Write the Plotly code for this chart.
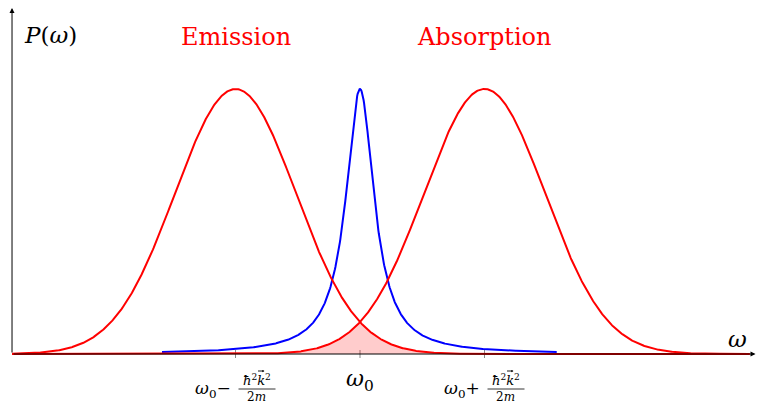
import numpy as np
import plotly.graph_objects as go

# curve parameters (in units of the recoil shift)
centers = [-1.0, 1.0]          # emission, absorption centers
peak_height = 1.0
gauss_sigma = 0.486
lorentz_gamma = 0.138
lorentz_range = [-1.59, 1.58]
x_range = [-2.795, 3.13]
labels = ["Emission", "Absorption"]

x = np.linspace(x_range[0], x_range[1], 1200)
g_em = peak_height * np.exp(-(x - centers[0]) ** 2 / (2 * gauss_sigma ** 2))
g_ab = peak_height * np.exp(-(x - centers[1]) ** 2 / (2 * gauss_sigma ** 2))
overlap = np.minimum(g_em, g_ab)
xl = np.linspace(lorentz_range[0], lorentz_range[1], 800)
lor = peak_height * lorentz_gamma ** 2 / (xl ** 2 + lorentz_gamma ** 2)

fig = go.Figure()
fig.add_trace(go.Scatter(x=x, y=overlap, fill="tozeroy", mode="none",
                         fillcolor="rgba(255,0,0,0.2)", hoverinfo="skip"))
fig.add_trace(go.Scatter(x=xl, y=lor, mode="lines", line=dict(color="#0000ff", width=2)))
fig.add_trace(go.Scatter(x=x, y=g_em, mode="lines", line=dict(color="#ff0000", width=2)))
fig.add_trace(go.Scatter(x=x, y=g_ab, mode="lines", line=dict(color="#ff0000", width=2)))

px = 124.5
xmin = -360 / px
xmax = 397 / px
ymin = -51 / 265
ymax = 354 / 265

serif = "DejaVu Serif"
ann = []
# axes with arrows
ann.append(dict(x=xmax - 1.5 / px, y=0, ax=x_range[0], ay=0, xref="x", yref="y", axref="x", ayref="y",
                showarrow=True, arrowhead=2, arrowsize=1, arrowwidth=1, arrowcolor="black", text=""))
ann.append(dict(x=x_range[0], y=ymax - 8 / 265, ax=x_range[0], ay=0, xref="x", yref="y", axref="x", ayref="y",
                showarrow=True, arrowhead=2, arrowsize=1, arrowwidth=1, arrowcolor="black", text=""))
ann.append(dict(x=x_range[0] + 10 / px, y=(354 - 35) / 265, text="<i>P</i>(<i>ω</i>)", showarrow=False,
                xanchor="left", yanchor="middle", font=dict(family=serif, size=23, color="black")))
ann.append(dict(x=(737 - 360) / px, y=(354 - 339) / 265, text="<i>ω</i>", showarrow=False,
                xanchor="center", yanchor="middle", font=dict(family=serif, size=23, color="black")))
for c, lab in zip(centers, labels):
    ann.append(dict(x=c, y=(354 - 37) / 265, text=lab, showarrow=False, xanchor="center", yanchor="middle",
                    font=dict(family=serif, size=24, color="#ff0000")))

# tick labels
ann.append(dict(x=0, y=-(380 - 354) / 265, text="<i>ω</i><sub>0</sub>", showarrow=False, xanchor="center",
                yanchor="middle", font=dict(family=serif, size=22, color="black")))
for c, sign in zip(centers, ["−", "+"]):
    ann.append(dict(x=c - 23 / px, y=-(389 - 354) / 265, text="<i>ω</i><sub>0</sub>" + sign, showarrow=False,
                    xanchor="center", yanchor="middle", font=dict(family=serif, size=17, color="black")))
    ann.append(dict(x=c + 21 / px, y=-(380 - 354) / 265,
                    text="<i>ħ</i><sup>2</sup><i>k</i><sup>2</sup>",
                    showarrow=False, xanchor="center", yanchor="middle",
                    font=dict(family=serif, size=13, color="black")))
    # vector arrow over k
    ann.append(dict(x=c + 29 / px, y=-(371 - 354) / 265, ax=c + 21 / px, ay=-(371 - 354) / 265,
                    xref="x", yref="y", axref="x", ayref="y", text="", showarrow=True,
                    arrowhead=2, arrowsize=0.5, arrowwidth=0.9, arrowcolor="black"))
    ann.append(dict(x=c + 21 / px, y=-(397 - 354) / 265, text="2<i>m</i>", showarrow=False, xanchor="center",
                    yanchor="middle", font=dict(family=serif, size=12, color="black")))

shapes = []
for c in centers:
    shapes.append(dict(type="line", x0=c + 3 / px, x1=c + 40 / px, y0=-(389 - 354) / 265, y1=-(389 - 354) / 265,
                       xref="x", yref="y", line=dict(color="black", width=0.8)))
for c in [centers[0], 0, centers[1]]:
    shapes.append(dict(type="line", x0=c, x1=c, y0=-4 / 265, y1=4 / 265, xref="x", yref="y",
                       line=dict(color="#888888", width=1), layer="below"))

fig.update_layout(
    width=757, height=405, margin=dict(l=0, r=0, t=0, b=0),
    plot_bgcolor="white", paper_bgcolor="white", showlegend=False,
    xaxis=dict(range=[xmin, xmax], visible=False, fixedrange=True),
    yaxis=dict(range=[ymin, ymax], visible=False, fixedrange=True),
    annotations=ann, shapes=shapes,
)
fig.write_html("out.html")
